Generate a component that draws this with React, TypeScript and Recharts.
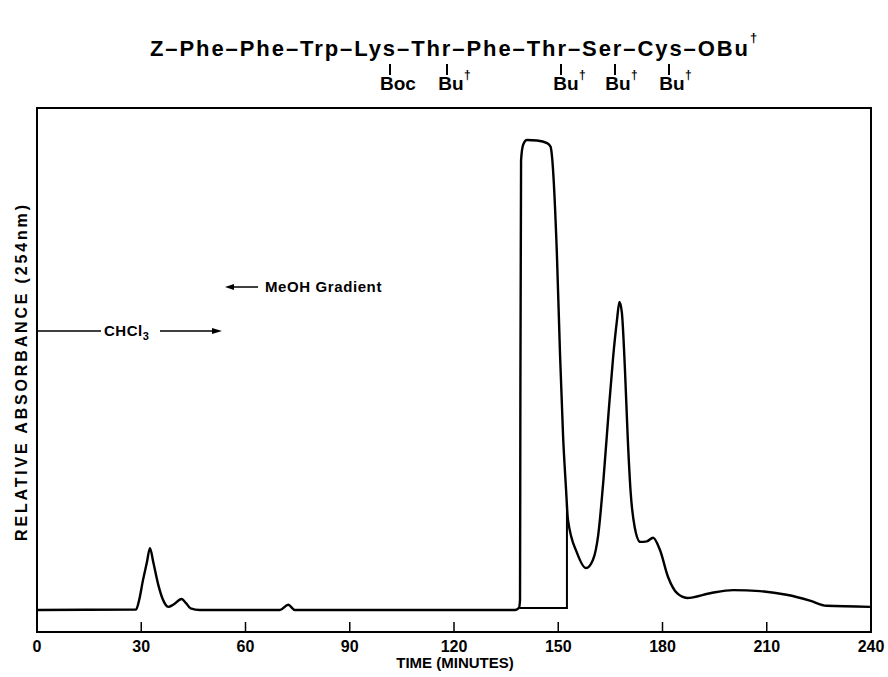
import { LineChart, Line, XAxis, YAxis, ReferenceArea } from 'recharts';

// time axis
const timeTicks = [0, 30, 60, 90, 120, 150, 180, 210, 240];

// main detector trace (minutes, relative absorbance 0-100)
const traceTime = [
    0, 28.5, 29.4, 30.5, 31.6, 32.5, 33.5, 34.9, 36.5, 37.8, 39.2, 41.6, 42.9, 44.2, 46.9,
    69.9, 72.3, 74.2, 137.6, 138.7, 139.0, 139.1, 139.3, 139.9, 141.0, 143.9, 146.8, 147.8,
    148.1, 149.6, 150.5, 151.4, 152.2, 152.8, 155.4, 158.0, 160.0, 161.5, 163.0, 164.5,
    165.8, 166.9, 167.6, 168.3, 169.2, 170.0, 170.8, 172.0, 173.6, 175.5, 177.3, 179.3,
    181.6, 184.2, 187.1, 193.7, 200.3, 208.1, 215.7, 222.4, 227.2, 239.7,
];
const traceAbs = [
    4.2, 4.3, 6.1, 9.9, 13.2, 16.0, 13.2, 9.0, 5.8, 4.8, 5.2, 6.3, 5.5, 4.5, 4.2,
    4.2, 5.2, 4.2, 4.2, 4.6, 6.1, 44, 90, 93, 93.9, 93.8, 93.3, 92.6,
    91.4, 72.3, 53.2, 37.2, 27.7, 21.4, 15.1, 12.2, 13.8, 18.5, 29, 42,
    52.5, 59.5, 63.0, 61, 50, 37, 27, 20, 17.2, 17.3, 18.0, 15.6,
    10.5, 7.4, 6.5, 7.4, 8.0, 7.8, 7.1, 6.0, 5.0, 4.8,
];

// pen return line closing the first fraction
const cutTime = [152.5, 152.5, 139.0];
const cutAbs = [24.5, 4.6, 4.6];

const trace = traceTime.map((t, i) => ({ t, v: traceAbs[i] }));
const cut = cutTime.map((t, i) => ({ t, v: cutAbs[i] }));

const FONT = '"Liberation Sans", Arial, sans-serif';

const TimeTick = (props: any) => {
    const { x, y, payload } = props;
    return (
        <g>
            <line x1={x} y1={y} x2={x} y2={y - 10} stroke="#000" strokeWidth={1.5} />
            <text x={x} y={y + 20} textAnchor="middle" fontSize={16} fontWeight="bold" fontFamily={FONT} fill="#000">
                {payload.value}
            </text>
        </g>
    );
};

const subLabels = [
    { bar: 390, text: 'Boc', x: 398 },
    { bar: 447, text: 'Bu', x: 451 },
    { bar: 561, text: 'Bu', x: 566 },
    { bar: 615, text: 'Bu', x: 618 },
    { bar: 669, text: 'Bu', x: 672 },
];

export default function App() {
    return (
        <div style={{ position: 'absolute', left: 0, top: 0, width: 888, height: 677, background: '#fff' }}>
            <LineChart width={888} height={677} margin={{ top: 108, right: 17, left: 37, bottom: 0 }}>
                <XAxis
                    dataKey="t"
                    type="number"
                    domain={[0, 240]}
                    ticks={timeTicks}
                    interval={0}
                    height={45}
                    tickSize={0}
                    tickMargin={0}
                    tickLine={false}
                    tick={<TimeTick />}
                    axisLine={{ stroke: '#000', strokeWidth: 2 }}
                    allowDataOverflow
                />
                <YAxis type="number" domain={[0, 100]} hide />
                <ReferenceArea x1={0} x2={240} y1={0} y2={100} fill="none" stroke="#000" strokeWidth={2} />
                <Line data={trace} dataKey="v" type="monotone" stroke="#000" strokeWidth={2.4} dot={false} isAnimationActive={false} />
                <Line data={cut} dataKey="v" type="linear" stroke="#000" strokeWidth={2} dot={false} isAnimationActive={false} />
            </LineChart>

            <svg width={888} height={677} style={{ position: 'absolute', left: 0, top: 0, pointerEvents: 'none' }}>
                <g fontFamily={FONT} fill="#000">
                    <text x={150} y={56} fontSize={22} fontWeight="bold" textLength={598}>
                        Z–Phe–Phe–Trp–Lys–Thr–Phe–Thr–Ser–Cys–OBu
                    </text>
                    <text x={750} y={42} fontSize={13} fontWeight="bold">†</text>
                    {subLabels.map((s, i) => (
                        <g key={i}>
                            <line x1={s.bar} y1={64} x2={s.bar} y2={75} stroke="#000" strokeWidth={2} />
                            <text x={s.x} y={90} fontSize={19} fontWeight="bold" textAnchor="middle">{s.text}</text>
                            {s.text === 'Bu' && <text x={s.x + 13} y={79} fontSize={12} fontWeight="bold">†</text>}
                        </g>
                    ))}

                    <text
                        transform="translate(27,373) rotate(-90)"
                        textAnchor="middle"
                        fontSize={16}
                        fontWeight="bold"
                        textLength={336}
                    >
                        RELATIVE ABSORBANCE (254nm)
                    </text>

                    <text x={455} y={668} textAnchor="middle" fontSize={15} fontWeight="bold">TIME (MINUTES)</text>

                    <line x1={230} y1={287} x2={258} y2={287} stroke="#000" strokeWidth={1.5} />
                    <polygon points="225,287 234,284 234,290" />
                    <text x={265} y={292} fontSize={15} fontWeight="bold" letterSpacing={0.6}>MeOH Gradient</text>

                    <line x1={37} y1={331} x2={101} y2={331} stroke="#000" strokeWidth={1.5} />
                    <text x={104} y={336} fontSize={15} fontWeight="bold" letterSpacing={0.5}>
                        CHCl<tspan fontSize={11} dy={4}>3</tspan>
                    </text>
                    <line x1={160} y1={331} x2={214} y2={331} stroke="#000" strokeWidth={1.5} />
                    <polygon points="222,331 212,328 212,334" />
                </g>
            </svg>
        </div>
    );
}
